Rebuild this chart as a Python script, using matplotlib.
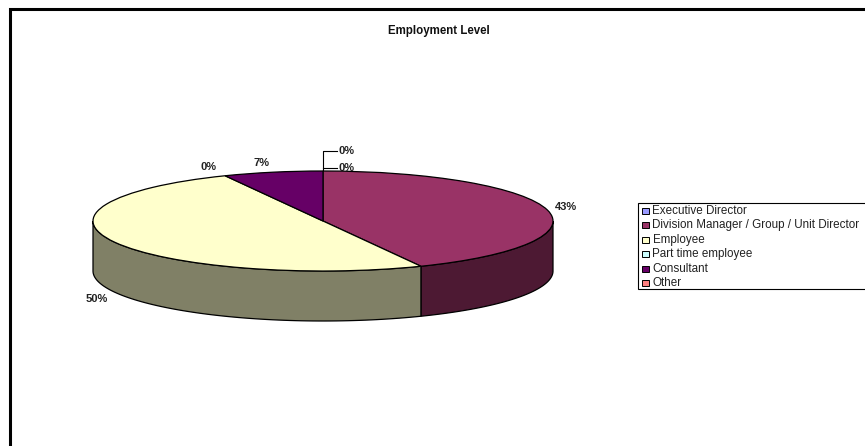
#!/usr/bin/env python3
"""Employment level pie chart, drawn as an Excel style 3D disc."""

import numpy as np
import matplotlib
matplotlib.use("Agg")
import matplotlib.pyplot as plt
from matplotlib.patches import Polygon, Rectangle, Wedge

categories = [
    "Executive Director",
    "Division Manager / Group / Unit Director",
    "Employee",
    "Part time employee",
    "Consultant",
    "Other",
]
values = [0, 43, 50, 0, 7, 0]
colors = ["#9999FF", "#993366", "#FFFFCC", "#CCFFFF", "#660066", "#FF8080"]
wall_colors = ["#4D4D80", "#4D1933", "#808066", "#668080", "#330033", "#804040"]
title = "Employment Level"

W, H = 865, 446
DEPTH = 1.0  # wall height, in units of the squashed radius

plt.rcParams["font.family"] = ["Liberation Sans", "DejaVu Sans"]


def px_axes(fig, left, top, right, bottom):
    """Axes placed by pixel edges, counted from the top left corner."""
    return fig.add_axes([left / W, 1 - bottom / H, (right - left) / W, (bottom - top) / H])


def draw_wall(ax, start, end, face):
    """Draw the visible part of the disc side between two angles (degrees)."""
    start, end = max(start, 180), min(end, 360)
    if end <= start:
        return
    t = np.radians(np.linspace(start, end, 80))
    top = np.column_stack([np.cos(t), np.sin(t)])
    bottom = (top - [0, DEPTH])[::-1]
    ax.add_patch(Polygon(np.vstack([top, bottom]), closed=True, facecolor=face,
                         edgecolor="black", linewidth=0.9, clip_on=False))


fig = plt.figure(figsize=(W / 100, H / 100), dpi=100, facecolor="white")

# page coordinates, used for the frame, title and legend
page = px_axes(fig, 0, 0, W, H)
page.set_xlim(0, W)
page.set_ylim(H, 0)
page.axis("off")

page.plot([9.5, 9.5, W], [H, 8.5, 8.5], color="black", linewidth=2.2,
          solid_joinstyle="miter", solid_capstyle="butt")
page.text(439, 30.8, title, fontsize=8.3, fontweight="bold", color="#111111",
          ha="center", va="center")

# pie: unit circle squashed to a flat ellipse by the axes box
pie = px_axes(fig, 93, 171, 553, 271)
pie.set_xlim(-1, 1)
pie.set_ylim(-1, 1)
pie.axis("off")

edges = 90 - 3.6 * np.cumsum([0] + values)
for i, v in enumerate(values):
    if v == 0:
        continue
    theta2, theta1 = edges[i], edges[i + 1]
    # walls first, split at the wrap around -180/180
    for shift in (0, 360):
        draw_wall(pie, theta1 + shift, theta2 + shift, wall_colors[i])
for i, v in enumerate(values):
    if v == 0:
        continue
    pie.add_patch(Wedge((0, 0), 1, edges[i + 1], edges[i], facecolor=colors[i],
                        edgecolor="black", linewidth=0.9, clip_on=False))

# data labels
label_pos = [(346.5, 150.5), (566, 206.5), (97, 298.7), (208.5, 166.7), (261.5, 162.5), (346.5, 167.7)]
for v, (x, y) in zip(values, label_pos):
    page.text(x, y, f"{v}%", fontsize=8, fontweight="bold", color="#222222",
              ha="center", va="center", zorder=5)

# leader lines for the two zero slices at the top of the disc
page.plot([337, 323, 323], [150.5, 150.5, 171], color="black", linewidth=0.8, zorder=4)
page.plot([337, 323], [167.5, 167.5], color="black", linewidth=0.8, zorder=4)

# legend box runs off the right edge
page.add_patch(Rectangle((637.5, 203), 240, 86, facecolor="white", edgecolor="black",
                         linewidth=0.8))
row_y = 210.7 + 14.5 * np.arange(len(categories))
for name, c, y in zip(categories, colors, row_y):
    page.add_patch(Rectangle((642, y - 3), 7, 6, facecolor=c, edgecolor="black", linewidth=0.7))
    page.text(652.5, y, name, fontsize=8.4, color="#222222", ha="left", va="center")

fig.savefig("out.png", dpi=100)
